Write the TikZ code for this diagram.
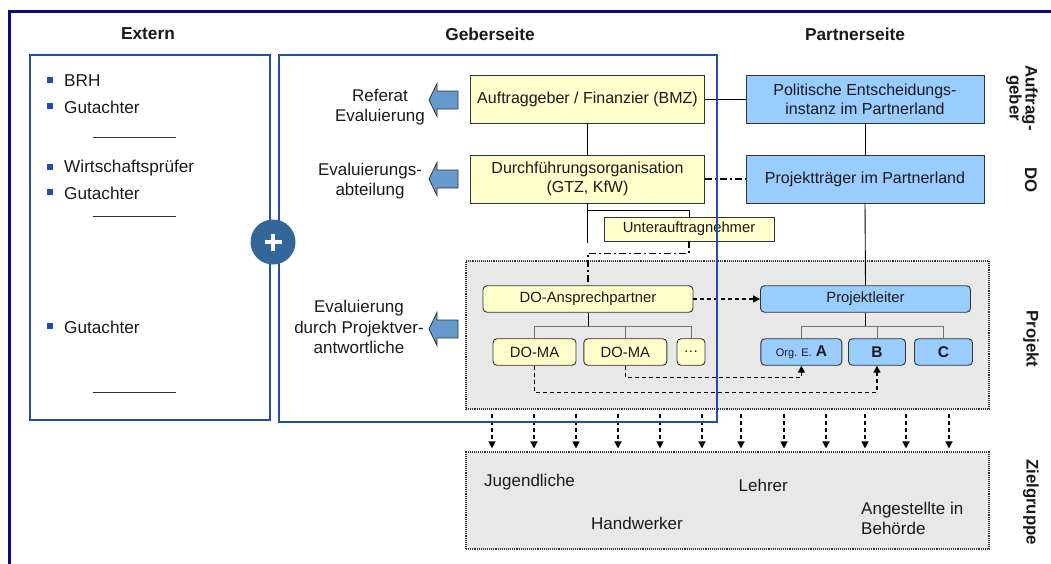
\documentclass[tikz,border=0pt]{standalone}
\usepackage{fontspec}
\setmainfont{Liberation Sans}
\usetikzlibrary{arrows.meta,calc}

\definecolor{navyframe}{HTML}{0A0A8C}
\definecolor{seitenblau}{HTML}{1F4FA8}
\definecolor{gelb}{HTML}{FFFFCC}
\definecolor{hellblau}{HTML}{99CCFF}
\definecolor{pfeilblau}{HTML}{6699CC}
\definecolor{plusblau}{HTML}{336699}
\definecolor{zonengrau}{HTML}{E8E8E8}
\definecolor{rand}{HTML}{333333}
\definecolor{schrift}{HTML}{1A1A1A}

\tikzset{
  box/.style={draw=rand, line width=0.9pt, inner sep=0pt, align=center,
    text=schrift, font=\fontsize{16}{19}\selectfont},
  ybox/.style={box, fill=gelb},
  bbox/.style={box, fill=hellblau},
  pbox/.style={box, rounded corners=4pt, minimum height=26.5pt,
    font=\fontsize{14.8}{17}\selectfont},
  zone/.style={draw=rand, densely dotted, line width=1.1pt, fill=zonengrau, inner sep=0pt},
  link/.style={draw=black, line width=0.9pt},
  treelink/.style={draw=black!55, line width=0.9pt},
  dashdot/.style={draw=black, line width=1.2pt, dash pattern=on 7pt off 3pt on 2pt off 3pt},
  dasharrow/.style={draw=black, line width=1.2pt, dash pattern=on 4pt off 3pt,
    -{Triangle[length=7pt,width=7pt]}},
  header/.style={font=\fontsize{17.3}{20}\bfseries, text=schrift},
  side/.style={font=\fontsize{16.8}{16}\bfseries, text=schrift, align=center, rotate=-90},
  lefttxt/.style={font=\fontsize{17}{20.5}\selectfont, text=schrift, align=center},
  item/.style={font=\fontsize{17.2}{20}\selectfont, text=schrift, anchor=west, inner sep=0pt},
  bullet/.style={fill=seitenblau, minimum size=6pt, inner sep=0pt},
  sepline/.style={draw=black!80, line width=0.9pt},
  blockarrow/.style={draw=rand, line width=0.8pt, fill=pfeilblau},
  frame/.style={draw=seitenblau, line width=1.8pt},
  ziel/.style={font=\fontsize{17}{20}\selectfont, text=schrift, anchor=west, align=left, inner sep=0pt},
}

\begin{document}
\begin{tikzpicture}[x=1pt,y=-1pt]
\useasboundingbox (0,0) rectangle (1051,563);

% outer frame
\draw[navyframe, line width=3pt] (9,580) -- (9,11.5) -- (1070,11.5);

% column headers
\node[header] (hExt) at (148,34) {Extern};
\node[header] (hGeb) at (490,34) {Geberseite};
\node[header] (hPart) at (855,34) {Partnerseite};

% level labels on the right
\node[side] (sAuf) at (1022,98) {Auftrag-\\geber};
\node[side] (sDO) at (1031,180) {DO};
\node[side] (sProj) at (1031,339) {Projekt};
\node[side] (sZiel) at (1031,502) {Zielgruppe};

% grey zones
\node[zone, minimum width=523pt, minimum height=148pt] (proj) at (727.5,335) {};
\node[zone, minimum width=523pt, minimum height=97pt] (zg) at (727.5,500.5) {};

% external evaluators
\foreach \n/\y/\t in {b1/81/BRH, b2/107/Gutachter, b3/168/Wirtschaftsprüfer, b4/193/Gutachter, b5/327/Gutachter}{
  \node[bullet] (\n) at (49.5,\y-1) {};
  \node[item] (\n t) at (64,\y) {\t};
}
\foreach \n/\y in {l1/137, l2/216, l3/392}{
  \coordinate (\n a) at (93,\y);
  \coordinate (\n b) at (176,\y);
  \draw[sepline] (\n a) -- (\n b);
}

% donor side evaluation units
\node[lefttxt] (tRef) at (380,107) {Referat\\Evaluierung};
\node[lefttxt] (tAbt) at (370,181) {Evaluierungs-\\abteilung};
\node[lefttxt] (tPV) at (359,327) {Evaluierung\\durch Projektver-\\antwortliche};
\foreach \y in {100,179,329}{
  \draw[blockarrow] (429,\y) -- (437,\y-16.5) -- (437,\y-9) -- (458,\y-9)
    -- (458,\y+9) -- (437,\y+9) -- (437,\y+16.5) -- cycle;
}

% organisation boxes
\node[ybox, minimum width=234pt, minimum height=48pt] (bmz) at (587.5,99) {Auftraggeber / Finanzier (BMZ)};
\node[bbox, minimum width=238pt, minimum height=48pt] (pol) at (865,99) {Politische Entscheidungs-\\instanz im Partnerland};
\node[ybox, minimum width=234pt, minimum height=48pt] (gtz) at (587.5,179) {Durchführungsorganisation\\(GTZ, KfW)};
\node[bbox, minimum width=238pt, minimum height=48pt] (ptr) at (865,179) {Projektträger im Partnerland};
\node[ybox, minimum width=170pt, minimum height=24pt, font=\fontsize{14.8}{16}\selectfont] (una) at (689,229) {Unterauftragnehmer};

% project level
\node[pbox, fill=gelb, minimum width=210pt] (dap) at (588,299) {DO-Ansprechpartner};
\node[pbox, fill=hellblau, minimum width=210pt] (pl) at (865.5,299) {Projektleiter};
\node[pbox, fill=gelb, minimum width=83pt] (ma1) at (534.5,352) {DO-MA};
\node[pbox, fill=gelb, minimum width=83pt] (ma2) at (625.3,352) {DO-MA};
\node[pbox, fill=gelb, minimum width=28pt] (mad) at (691,352) {\dots};
\node[pbox, fill=hellblau, minimum width=81pt] (oa) at (801.4,352) {{\fontsize{11}{13}\selectfont Org. E.} {\fontsize{15.5}{17}\bfseries A}};
\node[pbox, fill=hellblau, minimum width=57pt] (ob) at (877,352) {\fontsize{15.5}{17}\bfseries B};
\node[pbox, fill=hellblau, minimum width=58pt] (oc) at (943.5,352) {\fontsize{15.5}{17}\bfseries C};

% target group
\node[ziel] (z1) at (484,482) {Jugendliche};
\node[ziel] (z2) at (591,523) {Handwerker};
\node[ziel] (z3) at (738.5,485) {Lehrer};
\node[ziel] (z4) at (861,518) {Angestellte in\\Behörde};

% hierarchy lines
\draw[link] (bmz.south) -- (gtz.north);
\draw[link] (bmz.east) -- (pol.west);
\draw[link] (pol.south) -- (ptr.north);
\draw[link] (ptr.south) -- (pl.north);
\draw[dashdot] (gtz.east) -- (ptr.west);
\coordinate (gtzdown) at ($(gtz.south)+(0,40)$);
\draw[link] (gtz.south) -- (gtzdown);
\draw[link] ($(gtz.south)+(0,7)$) -| (una.north);
\draw[dashdot] (una.south) -- ++(0,12) -| (dap.north);

% project teams
\coordinate (dapbar) at ($(dap.south)+(0,14)$);
\draw[link] (dap.south) -- (dapbar);
\draw[treelink] (ma1.north) |- (dapbar) -| (mad.north);
\draw[treelink] (ma2.north) -- (ma2.north |- dapbar);
\coordinate (plbar) at ($(pl.south)+(0,14)$);
\draw[link] (pl.south) -- (plbar);
\draw[treelink] (oa.north) |- (plbar) -| (oc.north);
\draw[treelink] (ob.north) -- (ob.north |- plbar);

\draw[dasharrow] (dap.east) -- (pl.west);
\draw[dasharrow] (ma2.south) -- ++(0,11.5) -| (oa.south);
\draw[dasharrow] (ma1.south) -- ++(0,26.5) -| (ob.south);

% effects on the target group
\foreach \x [count=\i] in {492,534,576,618,660,702,741,784,826,865,906,949}{
  \coordinate (t\i) at (\x,0);
  \draw[dasharrow, shorten <=4pt, shorten >=3pt] (proj.south -| t\i) -- (zg.north -| t\i);
}

% side frames
\draw[frame] (30,55) rectangle (270,420);
\draw[frame] (279,55) rectangle (717,422);

% plus sign joining both sides
\node[circle, fill=plusblau, minimum size=45pt, inner sep=0pt] (plus) at (273,242) {};
\draw[white, line width=4.5pt] ($(plus.center)+(-8.5,0)$) -- ($(plus.center)+(8.5,0)$);
\draw[white, line width=4.5pt] ($(plus.center)+(0,-8.5)$) -- ($(plus.center)+(0,8.5)$);
\end{tikzpicture}
\end{document}
